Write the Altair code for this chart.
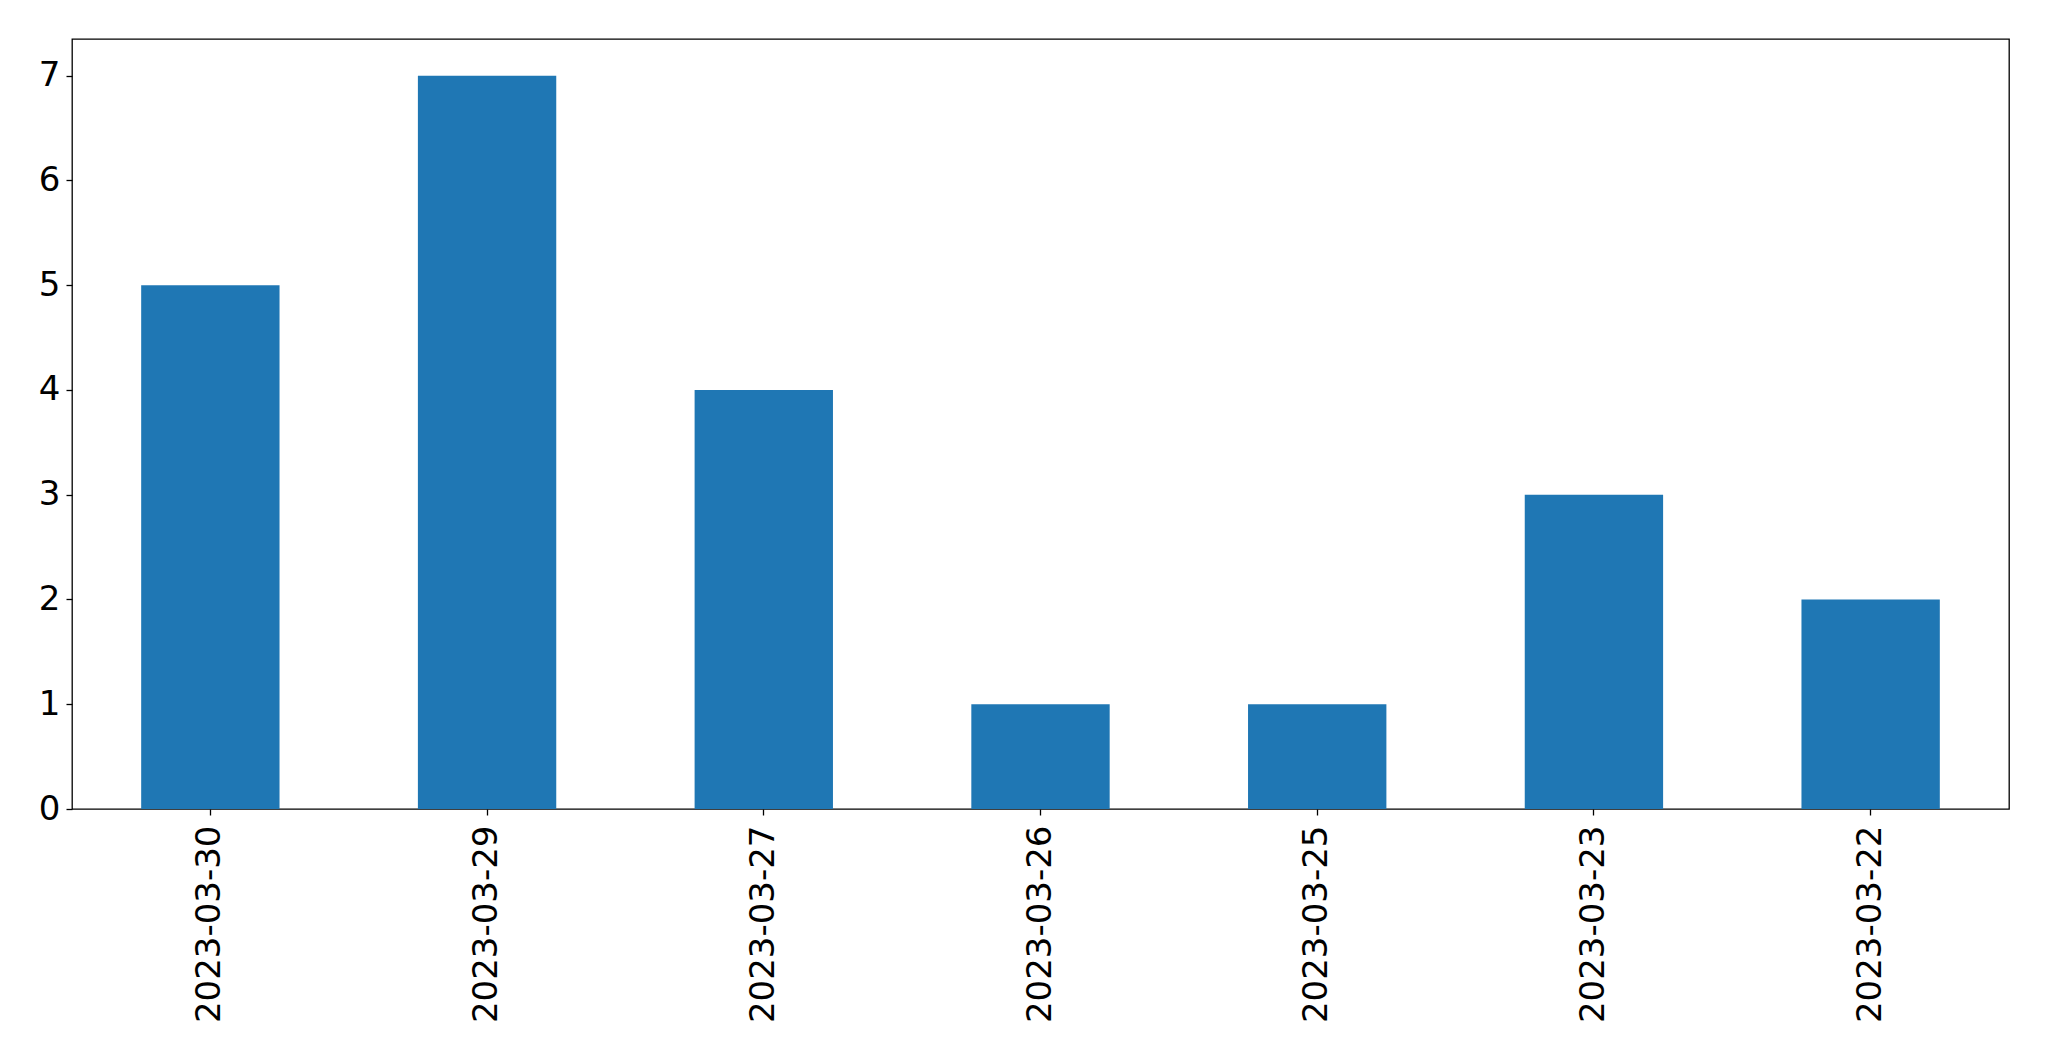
import altair as alt
import pandas as pd

dates = ["2023-03-30", "2023-03-29", "2023-03-27", "2023-03-26", "2023-03-25", "2023-03-23", "2023-03-22"]
counts = [5, 7, 4, 1, 1, 3, 2]

df = pd.DataFrame({"date": dates, "count": counts})

chart = alt.Chart(df).mark_bar(color="#1f77b4").encode(
    x=alt.X("date:N", sort=None, title=None,
            scale=alt.Scale(paddingInner=0.5, paddingOuter=0.25),
            axis=alt.Axis(labelAngle=270, labelAlign="right", labelBaseline="middle",
                          labelPadding=10, tickSize=6, labelLimit=0)),
    y=alt.Y("count:Q", title=None,
            scale=alt.Scale(domain=[0, 7.35], nice=False, zero=True),
            axis=alt.Axis(values=[0, 1, 2, 3, 4, 5, 6, 7], tickSize=6, labelPadding=6, grid=False)),
).properties(
    width=1937, height=770,
    autosize=alt.AutoSizeParams(type="none"),
    padding={"left": 64, "top": 31, "right": 30, "bottom": 230},
).configure_view(
    stroke="black", strokeWidth=1.3
).configure_axis(
    labelFont="DejaVu Sans", labelFontSize=34, labelColor="black",
    domain=False, ticks=True, tickColor="black", tickWidth=1.3, grid=False,
)

chart.save("out.html", embed_options={"renderer": "svg", "actions": False})
